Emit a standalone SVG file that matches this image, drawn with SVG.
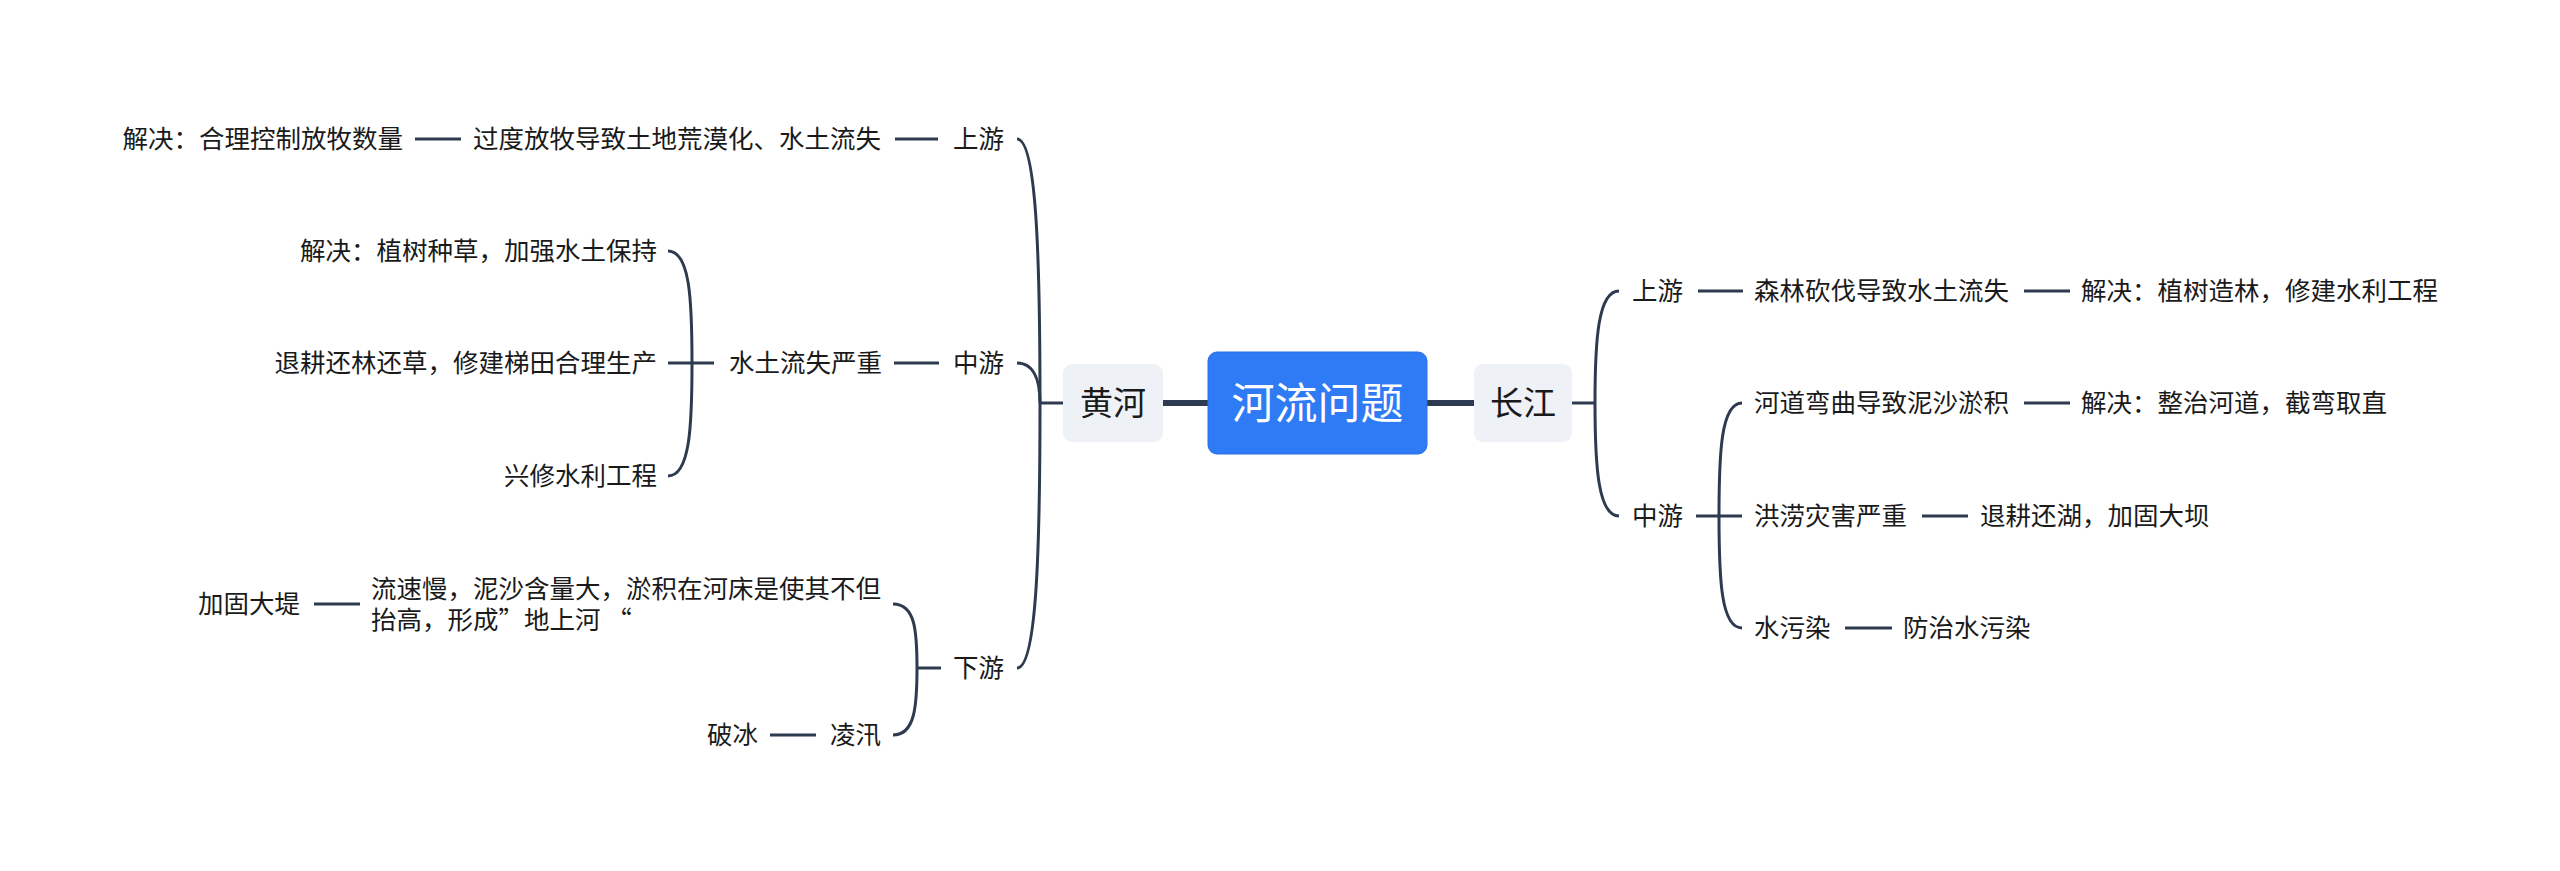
<svg xmlns="http://www.w3.org/2000/svg" width="2560" height="871" viewBox="0 0 2560 871">
<style>
  text { font-family: "Noto Sans CJK SC", "Liberation Sans", sans-serif; fill: #1a1a1a; font-size: 25.5px; }
  .end { text-anchor: end; }
  .mid { text-anchor: middle; }
  .conn path, .conn line { fill: none; stroke: #2e3a4f; stroke-width: 3; stroke-linecap: butt; }
  .conn .thick { stroke-width: 6; }
  .topic { fill: #eef1f5; }
  .root { fill: #2f7bf6; stroke: #2a6fe3; stroke-width: 1; }
</style>
<rect width="2560" height="871" fill="#ffffff"/>

<g id="connectors" class="conn">
  <!-- main -->
  <line class="thick" x1="1163" y1="403" x2="1208" y2="403"/>
  <line class="thick" x1="1427" y1="403" x2="1474" y2="403"/>
  <!-- 黄河 -->
  <line x1="1063" y1="403" x2="1040" y2="403"/>
  <path d="M1040,403 C1040,250 1036,139 1017,139"/>
  <path d="M1040,403 C1040,385 1036,363 1017,363"/>
  <path d="M1040,403 C1040,560 1036,668 1017,668"/>
  <!-- 上游 left -->
  <line x1="938" y1="139" x2="895" y2="139"/>
  <line x1="461" y1="139" x2="415" y2="139"/>
  <!-- 中游 left -->
  <line x1="939" y1="363" x2="894" y2="363"/>
  <line x1="714" y1="363" x2="668" y2="363"/>
  <path d="M692,363 C692,300 690,251 668,251"/>
  <path d="M692,363 C692,426 690,476 668,476"/>
  <!-- 下游 -->
  <line x1="941" y1="668" x2="917" y2="668"/>
  <path d="M917,668 C917,630 915,604 893,604"/>
  <path d="M917,668 C917,706 915,735 893,735"/>
  <line x1="360" y1="604" x2="314" y2="604"/>
  <line x1="816" y1="735" x2="770" y2="735"/>
  <!-- 长江 -->
  <line x1="1572" y1="403" x2="1595" y2="403"/>
  <path d="M1595,403 C1595,340 1598,291 1619,291"/>
  <path d="M1595,403 C1595,466 1598,516 1619,516"/>
  <line x1="1698" y1="291" x2="1743" y2="291"/>
  <line x1="2024" y1="291" x2="2070" y2="291"/>
  <!-- 中游 right -->
  <line x1="1696" y1="516" x2="1742" y2="516"/>
  <path d="M1719,516 C1719,453 1721,403 1742,403"/>
  <path d="M1719,516 C1719,579 1721,628 1742,628"/>
  <line x1="2024" y1="403" x2="2070" y2="403"/>
  <line x1="1922" y1="516" x2="1968" y2="516"/>
  <line x1="1845" y1="628" x2="1892" y2="628"/>
</g>

<g id="root">
  <rect class="root" x="1208" y="352" width="219" height="102" rx="9"/>
  <text class="mid" x="1317.5" y="419" style="fill:#ffffff;font-size:43px">河流问题</text>
</g>
<g id="huanghe">
  <rect class="topic" x="1063" y="364" width="100" height="78" rx="9"/>
  <text class="mid" x="1113" y="415" style="font-size:33px">黄河</text>
</g>
<g id="changjiang">
  <rect class="topic" x="1474" y="364" width="98" height="78" rx="9"/>
  <text class="mid" x="1523" y="415" style="font-size:33px">长江</text>
</g>

<!-- 黄河 branch -->
<g id="hh-shangyou"><text x="953" y="148">上游</text></g>
<g id="hh-sy-1"><text class="end" x="881" y="148">过度放牧导致土地荒漠化、水土流失</text></g>
<g id="hh-sy-2"><text class="end" x="403" y="148">解决：合理控制放牧数量</text></g>

<g id="hh-zhongyou"><text x="953" y="372">中游</text></g>
<g id="hh-zy-1"><text class="end" x="882" y="372">水土流失严重</text></g>
<g id="hh-zy-a"><text class="end" x="657" y="260">解决：植树种草，加强水土保持</text></g>
<g id="hh-zy-b"><text class="end" x="657" y="372">退耕还林还草，修建梯田合理生产</text></g>
<g id="hh-zy-c"><text class="end" x="657" y="485">兴修水利工程</text></g>

<g id="hh-xiayou"><text x="953" y="677">下游</text></g>
<g id="hh-xy-1">
  <text x="371" y="598">流速慢，泥沙含量大，淤积在河床是使其不但<tspan x="371" dy="31">抬高，形成”地上河 “</tspan></text>
</g>
<g id="hh-xy-1a"><text class="end" x="300" y="613">加固大堤</text></g>
<g id="hh-xy-2"><text class="end" x="881" y="744">凌汛</text></g>
<g id="hh-xy-2a"><text class="end" x="758" y="744">破冰</text></g>

<!-- 长江 branch -->
<g id="cj-shangyou"><text x="1632" y="300">上游</text></g>
<g id="cj-sy-1"><text x="1754" y="300">森林砍伐导致水土流失</text></g>
<g id="cj-sy-2"><text x="2081" y="300">解决：植树造林，修建水利工程</text></g>

<g id="cj-zhongyou"><text x="1632" y="525">中游</text></g>
<g id="cj-zy-1"><text x="1754" y="412">河道弯曲导致泥沙淤积</text></g>
<g id="cj-zy-1a"><text x="2081" y="412">解决：整治河道，截弯取直</text></g>
<g id="cj-zy-2"><text x="1754" y="525">洪涝灾害严重</text></g>
<g id="cj-zy-2a"><text x="1980" y="525">退耕还湖，加固大坝</text></g>
<g id="cj-zy-3"><text x="1754" y="637">水污染</text></g>
<g id="cj-zy-3a"><text x="1903" y="637">防治水污染</text></g>
</svg>
